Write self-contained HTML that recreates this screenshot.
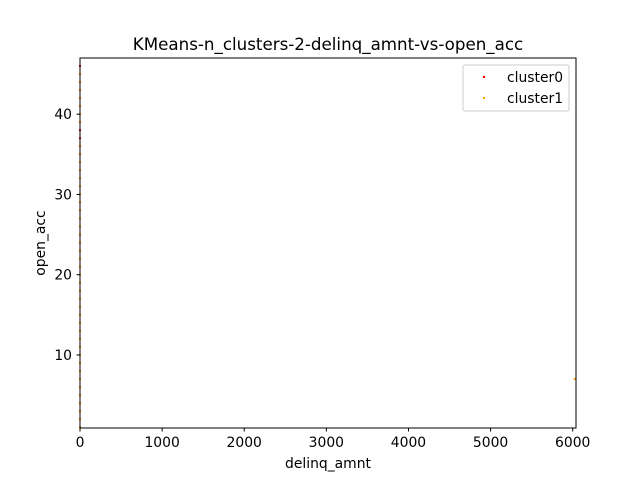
<!DOCTYPE html>
<html><head><meta charset="utf-8"><style>
body{margin:0;background:#fff}
svg text{font-family:"DejaVu Sans","Liberation Sans",sans-serif;fill:#000}
</style></head><body>
<svg id="chart" width="640" height="480">
<rect width="640" height="480" fill="#fff"/>
<text x="328" y="50" text-anchor="middle" font-size="16.7">KMeans-n_clusters-2-delinq_amnt-vs-open_acc</text>
<g id="marks"></g>
<rect x="80" y="58" width="496" height="370" fill="none" stroke="#000" stroke-width="1"/>
<g id="axes"></g>
<text x="328" y="468" text-anchor="middle" font-size="13.9">delinq_amnt</text>
<text transform="translate(45,243) rotate(-90)" text-anchor="middle" font-size="13.9">open_acc</text>
<g>
<rect x="463" y="65" width="106" height="46" rx="2" fill="#fff" stroke="#ccc"/>
<circle cx="484" cy="77" r="1.2" fill="red"/>
<text x="507" y="82" font-size="13.9">cluster0</text>
<circle cx="484" cy="98" r="1.2" fill="orange"/>
<text x="507" y="103" font-size="13.9">cluster1</text>
</g>
</svg>
<script>
const xTicks=[0,1000,2000,3000,4000,5000,6000];
const yTicks=[10,20,30,40];
const cluster0X=[0,0,0];
const cluster0Y=[46,38,37];
const cluster1X=[0,0,0,0,0,0,0,0,0,0,0,0,0,0,0,0,0,0,0,0,0,0,0,0,0,0,0,0,0,0,0,0,0,0,0,0,0,0,0,0,0,0,0,0,0,6024];
const cluster1Y=[1,2,3,4,5,6,7,8,9,10,11,12,13,14,15,16,17,18,19,20,21,22,23,24,25,26,27,28,29,30,31,32,33,34,35,36,39,40,41,42,43,44,45,35,36,7];
const X0=0,X1=6040,Y0=0.9,Y1=47.0;
const px=v=>80+(v-X0)/(X1-X0)*496;
const py=v=>428-(v-Y0)/(Y1-Y0)*370;
const NS="http://www.w3.org/2000/svg";
const marks=document.getElementById('marks'),axes=document.getElementById('axes');
function dot(x,y,c,n){const e=document.createElementNS(NS,'circle');
e.setAttribute('cx',px(x));e.setAttribute('cy',py(y));e.setAttribute('r',1.2);e.setAttribute('fill',c);


marks.appendChild(e);}
cluster1X.forEach((x,i)=>dot(x,cluster1Y[i],'orange','cluster1-point'));
cluster0X.forEach((x,i)=>dot(x,cluster0Y[i],'red','cluster0-point'));
xTicks.forEach(t=>{const x=px(t);
const l=document.createElementNS(NS,'line');l.setAttribute('x1',x);l.setAttribute('x2',x);l.setAttribute('y1',428);l.setAttribute('y2',431.5);l.setAttribute('stroke','#000');


axes.appendChild(l);
const s=document.createElementNS(NS,'text');s.setAttribute('x',x);s.setAttribute('y',447);s.setAttribute('text-anchor','middle');s.setAttribute('font-size','13.9');s.textContent=t;


axes.appendChild(s);});
yTicks.forEach(t=>{const y=py(t);
const l=document.createElementNS(NS,'line');l.setAttribute('x1',76.5);l.setAttribute('x2',80);l.setAttribute('y1',y);l.setAttribute('y2',y);l.setAttribute('stroke','#000');


axes.appendChild(l);
const s=document.createElementNS(NS,'text');s.setAttribute('x',72);s.setAttribute('y',y+5);s.setAttribute('text-anchor','end');s.setAttribute('font-size','13.9');s.textContent=t;


axes.appendChild(s);});
</script>
</body></html>
